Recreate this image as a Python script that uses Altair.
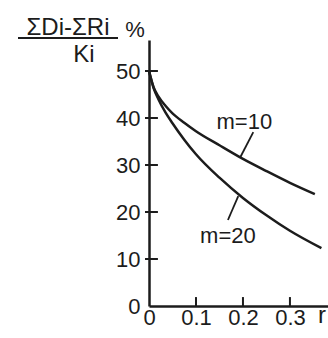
import altair as alt
import pandas as pd

# curve data
r_m10 = [0, 0.01, 0.02, 0.035, 0.05, 0.075, 0.1, 0.15, 0.2, 0.25, 0.3, 0.353]
v_m10 = [50, 46.5, 44.6, 42.6, 41.0, 39.0, 37.2, 34.2, 31.3, 28.7, 26.2, 23.8]
r_m20 = [0, 0.01, 0.02, 0.035, 0.05, 0.075, 0.1, 0.15, 0.2, 0.25, 0.3, 0.367]
v_m20 = [50, 46.3, 44.0, 41.2, 38.9, 35.4, 32.3, 27.3, 23.0, 19.3, 16.0, 12.3]

y_ticks = [0, 10, 20, 30, 40, 50]
x_ticks = [0, 0.1, 0.2, 0.3]

label_text = ["m=10", "m=20"]
label_r = [0.203, 0.168]
label_v = [39.2, 15.0]
# leader lines from curve to label
lead_r1 = [0.194, 0.190]
lead_v1 = [31.6, 23.4]
lead_r2 = [0.222, 0.168]
lead_v2 = [37.0, 18.3]

INK = "#1c1c1c"
FONT = "Liberation Sans"

curves = pd.DataFrame(
    {"r": r_m10 + r_m20, "v": v_m10 + v_m20,
     "m": ["m=10"] * len(r_m10) + ["m=20"] * len(r_m20)}
)
labels = pd.DataFrame({"t": label_text, "r": label_r, "v": label_v})
leads = pd.DataFrame({"r1": lead_r1, "v1": lead_v1, "r2": lead_r2, "v2": lead_v2})
yt = pd.DataFrame({"v": y_ticks[1:], "a": -0.0085, "b": 0.019})
xt = pd.DataFrame({"r": x_ticks[1:], "a": 0.0, "b": 1.9})

xs = alt.Scale(domain=[0, 0.381], nice=False, zero=False)
ys = alt.Scale(domain=[0, 56.6], nice=False)

xax = alt.Axis(values=x_ticks, labelExpr="datum.value == 0 ? '0' : format(datum.value, '.1f')",
               ticks=False, grid=False, domainColor=INK, domainWidth=2.5,
               labelFont=FONT, labelFontSize=22, labelColor=INK, labelPadding=1,
               labelFlush=False, title=None)
yax = alt.Axis(values=y_ticks, ticks=False, grid=False, domainColor=INK, domainWidth=2.5,
               labelFont=FONT, labelFontSize=22, labelColor=INK, labelPadding=9,
               labelFlush=False, title=None)

lines = alt.Chart(curves).mark_line(interpolate="monotone", color=INK, strokeWidth=2.5).encode(
    x=alt.X("r:Q", scale=xs, axis=xax),
    y=alt.Y("v:Q", scale=ys, axis=yax),
    detail="m:N",
)

yticks = alt.Chart(yt).mark_rule(color=INK, strokeWidth=2).encode(
    x=alt.X("a:Q", scale=xs), x2="b:Q", y=alt.Y("v:Q", scale=ys)
)
xticks = alt.Chart(xt).mark_rule(color=INK, strokeWidth=2).encode(
    x=alt.X("r:Q", scale=xs), y=alt.Y("a:Q", scale=ys), y2="b:Q"
)

lab = alt.Chart(labels).mark_text(font=FONT, fontSize=22, color=INK).encode(
    x=alt.X("r:Q", scale=xs), y=alt.Y("v:Q", scale=ys), text="t:N"
)
lead = alt.Chart(leads).mark_rule(color=INK, strokeWidth=1.8).encode(
    x=alt.X("r1:Q", scale=xs), y=alt.Y("v1:Q", scale=ys), x2="r2:Q", y2="v2:Q"
)

num = alt.Chart(pd.DataFrame({"t": ["ΣDi-ΣRi"]})).mark_text(
    font=FONT, fontSize=24, color=INK, align="center", baseline="alphabetic"
).encode(x=alt.value(-81), y=alt.value(-5), text="t:N")
bar = alt.Chart(pd.DataFrame({"k": [1]})).mark_rule(color=INK, strokeWidth=2).encode(
    x=alt.value(-131), x2=alt.value(-31), y=alt.value(-2)
)
den = alt.Chart(pd.DataFrame({"t": ["Ki"]})).mark_text(
    font=FONT, fontSize=24, color=INK, align="center", baseline="alphabetic"
).encode(x=alt.value(-65), y=alt.value(22), text="t:N")
pct = alt.Chart(pd.DataFrame({"t": ["%"]})).mark_text(
    font=FONT, fontSize=22, color=INK, align="center", baseline="alphabetic"
).encode(x=alt.value(-14), y=alt.value(-3), text="t:N")
rlab = alt.Chart(pd.DataFrame({"t": ["r"]})).mark_text(
    font=FONT, fontSize=24, color=INK, align="left", baseline="alphabetic"
).encode(x=alt.value(169), y=alt.value(283), text="t:N")

chart = alt.layer(lines, yticks, xticks, lead, lab, num, bar, den, pct, rlab).properties(
    width=179, height=266,
    autosize=alt.AutoSizeParams(type="none"),
    padding={"left": 149, "top": 40, "right": 0, "bottom": 32},
    background="white",
).configure_view(stroke=None)

chart.save("out.html", embed_options={"renderer": "svg", "actions": False})
